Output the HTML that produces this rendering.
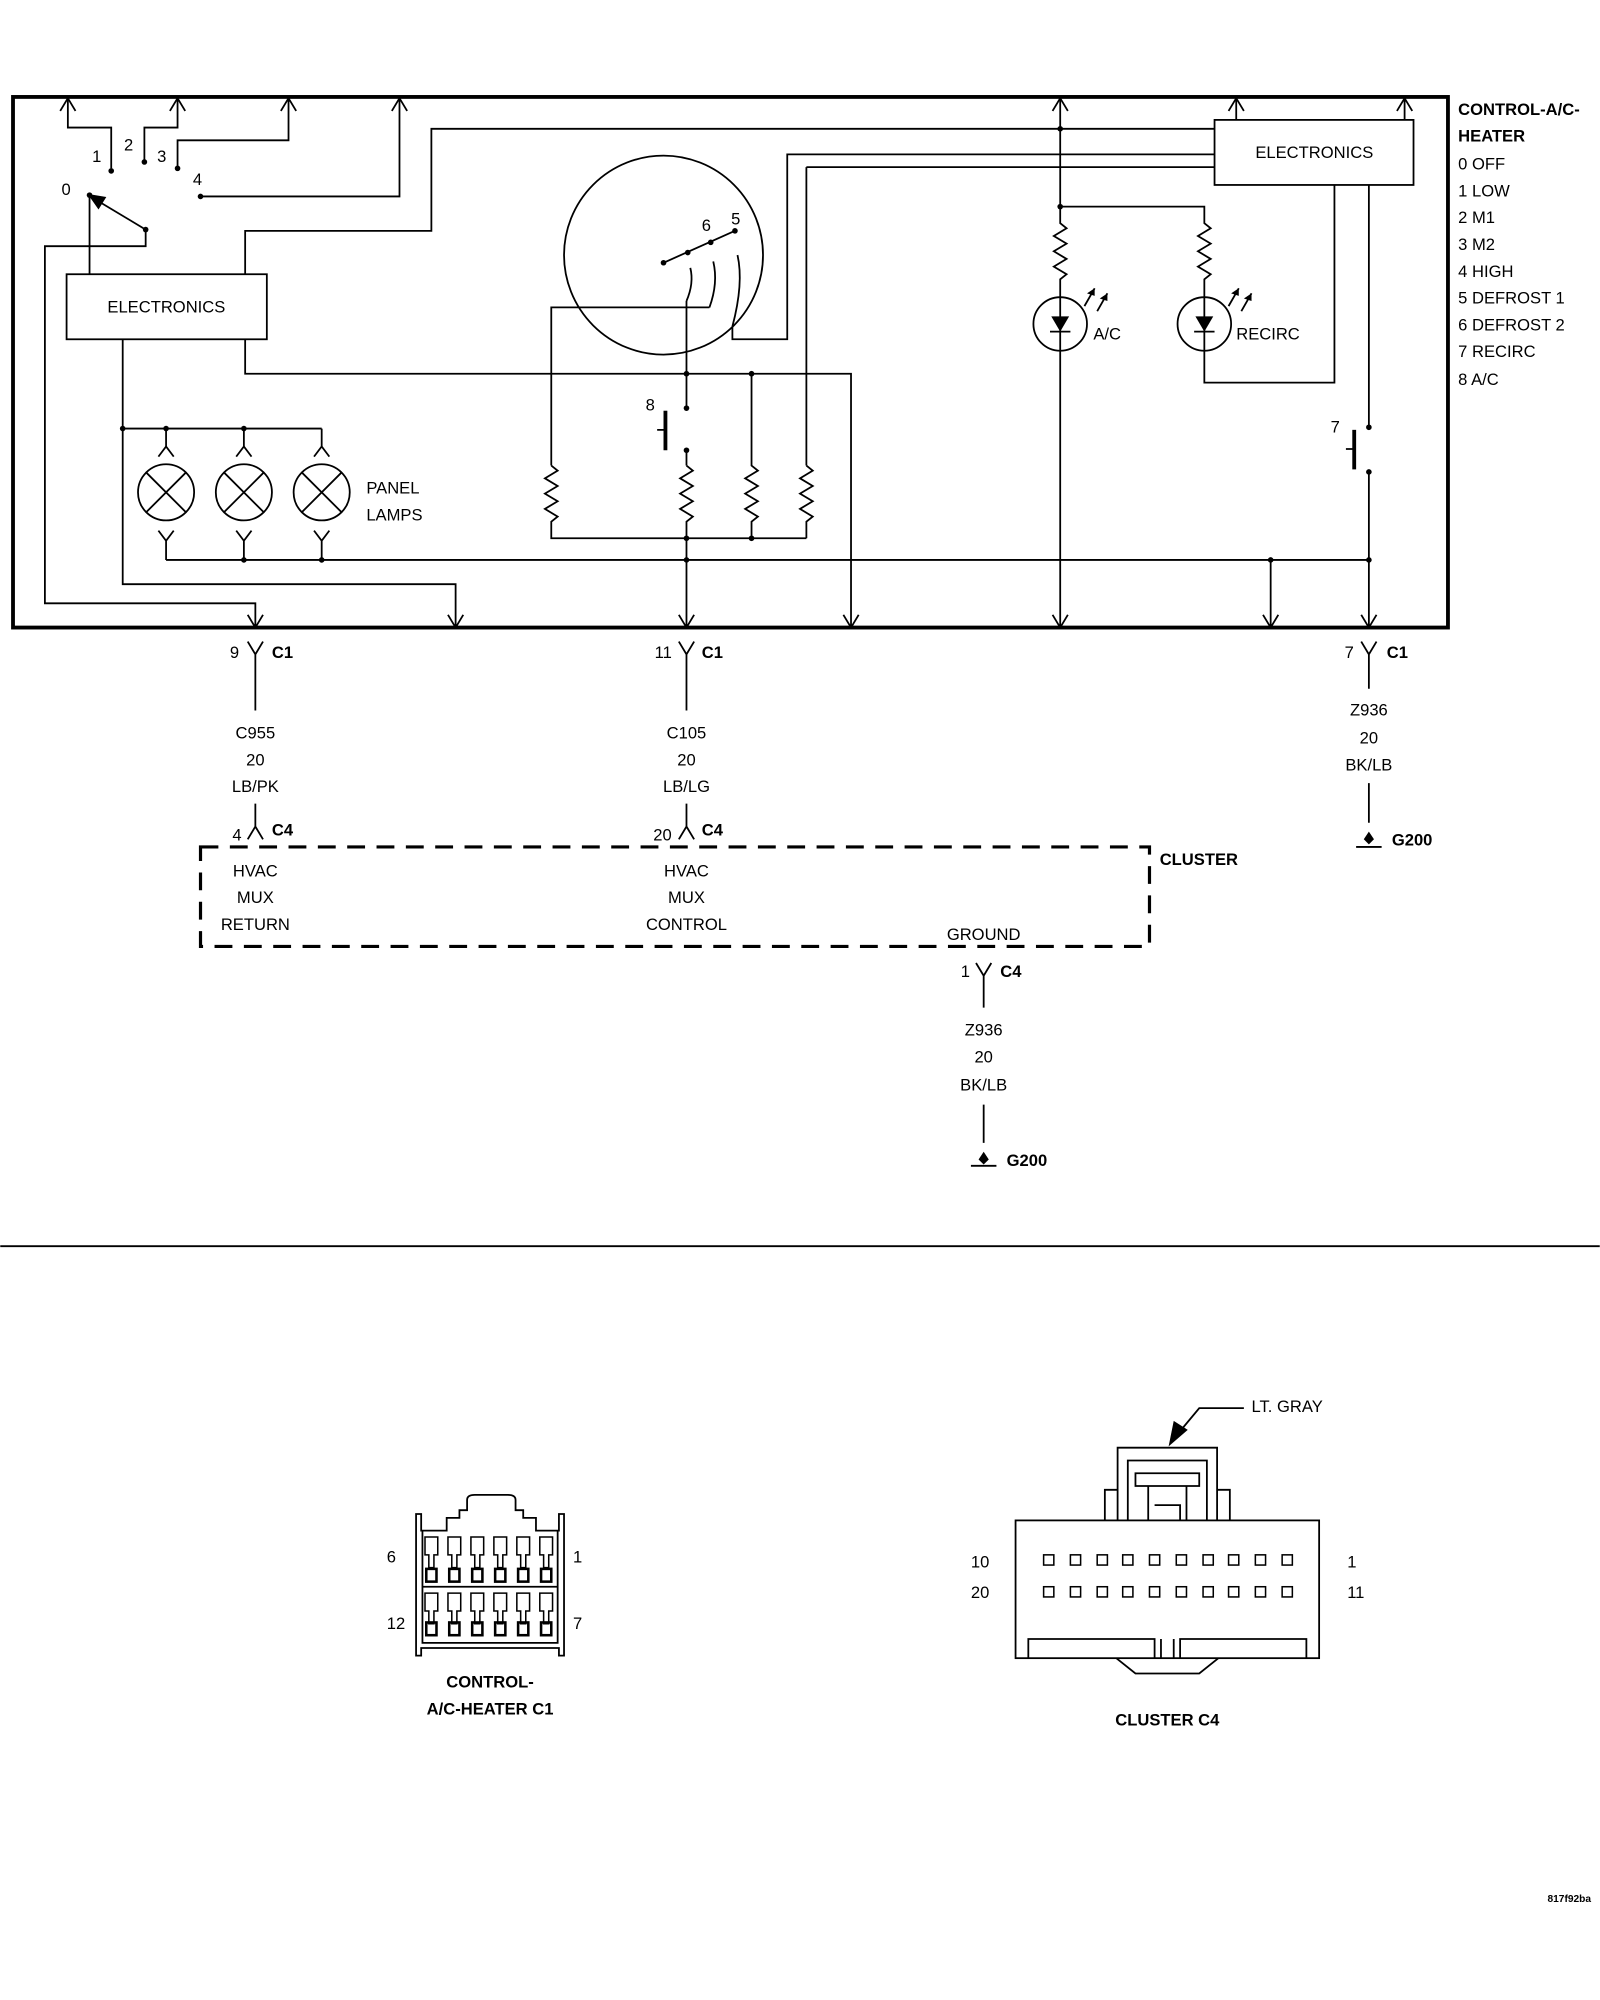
<!DOCTYPE html>
<html><head><meta charset="utf-8"><style>
html,body{margin:0;padding:0;background:#fff;}
svg{display:block;}
text{font-family:"Liberation Sans",Arial,sans-serif;font-size:13px;fill:#000;}
.b{font-weight:bold;}
.m{text-anchor:middle;}
</style></head><body>
<svg width="1600" height="2000" viewBox="0 0 1254 1568" xmlns="http://www.w3.org/2000/svg">
<defs>
<marker id="ad" markerWidth="1" markerHeight="1" overflow="visible"></marker>
</defs>
<g fill="none" stroke="#000" stroke-width="1.4">
<!-- outer box -->
<rect x="10" y="76" width="1125" height="416" stroke-width="3"/>
<!-- top up arrows -->
<path d="M47,87 L53,77 L59,87 M133,87 L139,77 L145,87 M220,87 L226,77 L232,87 M307,87 L313,77 L319,87 M825,87 L831,77 L837,87 M963,87 L969,77 L975,87 M1095,87 L1101,77 L1107,87"/>
<path d="M53,77 V100 H87 V132 M139,77 V100 H113 V127 M226,77 V110 H139 V132 M313,77 V154 H157"/>
<!-- switch -->
<path d="M114,180 L74,156"/>
<polygon points="70,153 82,155 77,163" fill="#000"/>
<path d="M70,153 V215 M114,180 V193 H35 V473 H200 V492 M194,482 L200,492 L206,482"/>
<!-- left electronics -->
<rect x="52" y="215" width="157" height="51"/>
<path d="M192,215 V181 H338 V101 H952 M192,266 V293 H667 V492 M661,482 L667,492 L673,482"/>
<path d="M96,266 V458 H357 V492 M351,482 L357,492 L363,482"/>
<!-- lamps -->
<path d="M96,336 H252 M130,336 V350 M191,336 V350 M252,336 V350"/>
<path d="M124,358 L130,350 L136,358 M185,358 L191,350 L197,358 M246,358 L252,350 L258,358"/>
<circle cx="130" cy="386" r="22"/><circle cx="191" cy="386" r="22"/><circle cx="252" cy="386" r="22"/>
<path d="M114,370 L146,402 M146,370 L114,402 M175,370 L207,402 M207,370 L175,402 M236,370 L268,402 M268,370 L236,402"/>
<path d="M124,416 L130,424 L136,416 M185,416 L191,424 L197,416 M246,416 L252,424 L258,416 M130,424 V439 M191,424 V439 M252,424 V439 M130,439 H1073"/>
<!-- circle switch -->
<circle cx="520" cy="200" r="78"/>
<path d="M520,206 L576,181"/>
<path d="M541,210 Q544,222 538,236 M559,205 Q563,222 556,241 M578,200 Q583,222 574,256"/>
<path d="M538,236 V320 M556,241 H432 V365 M574,256 V266 H617 V121 H952 M632,131 H952 M632,131 V365"/>
<path d="M522,323 V352 M515,337 H522"/>
<path d="M538,353 V365 M538,365 l5,4 l-10,6 l10,6 l-10,6 l10,6 l-10,6 l10,6 l-5,4 V492 M532,482 L538,492 L544,482"/>
<path d="M432,365 l5,4 l-10,6 l10,6 l-10,6 l10,6 l-10,6 l10,6 l-5,4 V422 H632"/>
<path d="M589,293 V365 l5,4 l-10,6 l10,6 l-10,6 l10,6 l-10,6 l10,6 l-5,4 V422"/>
<path d="M632,365 l5,4 l-10,6 l10,6 l-10,6 l10,6 l-10,6 l10,6 l-5,4 V422"/>
<!-- right electronics -->
<rect x="952" y="94" width="156" height="51"/>
<path d="M969,77 V94 M1101,77 V94"/>
<path d="M831,77 V175 l5,4 l-10,6 l10,6 l-10,6 l10,6 l-10,6 l10,6 l-5,4 V492 M825,482 L831,492 L837,482"/>
<path d="M831,162 H944 V175 l5,4 l-10,6 l10,6 l-10,6 l10,6 l-10,6 l10,6 l-5,4 V300 H1046 V145"/>
<circle cx="831" cy="254" r="21"/><circle cx="944" cy="254" r="21"/>
<path d="M823,260 H839 M936,260 H952"/>
<path d="M850,240 L858,226 M860,244 L868,230 M963,240 L971,226 M973,244 L981,230"/>
<path d="M1073,145 V335 M1062,338 V367 M1055,352 H1062 M1073,370 V492 M1067,482 L1073,492 L1079,482 M996,439 V492 M990,482 L996,492 L1002,482"/>
<!-- below -->
<path d="M194,503 L200,513 L206,503 M200,513 V557 M200,630 V648 M194,658 L200,648 L206,658"/>
<path d="M532,503 L538,513 L544,503 M538,513 V557 M538,630 V648 M532,658 L538,648 L544,658"/>
<path d="M1067,503 L1073,513 L1079,503 M1073,513 V540 M1073,614 V645 M1063,664 H1083"/>
<path d="M157,664 H901 V742 H157 Z" stroke-width="2.5" stroke-dasharray="14,9"/>
<path d="M765,755 L771,765 L777,755 M771,765 V790 M771,866 V896 M761,914 H781"/>
<path d="M0,977 H1254"/>
<!-- C1 connector -->
<path d="M326,1298 V1187 H330 V1200 H350 V1190 H360 V1184 H366 V1176 Q366,1172 372,1172 H398 Q404,1172 404,1176 V1184 H410 V1190 H420 V1200 H438 V1187 H442 V1298 H438 V1292 H330 V1298 Z"/>
<path d="M331,1200 V1288 H437 V1200 M331,1244 H437"/>
<g stroke-width="1.2">
<path d="M333,1205 h10 v14 h-3 v10 h-4 v-10 h-3 z M351,1205 h10 v14 h-3 v10 h-4 v-10 h-3 z M369,1205 h10 v14 h-3 v10 h-4 v-10 h-3 z M387,1205 h10 v14 h-3 v10 h-4 v-10 h-3 z M405,1205 h10 v14 h-3 v10 h-4 v-10 h-3 z M423,1205 h10 v14 h-3 v10 h-4 v-10 h-3 z"/>
<path d="M333,1249 h10 v14 h-3 v10 h-4 v-10 h-3 z M351,1249 h10 v14 h-3 v10 h-4 v-10 h-3 z M369,1249 h10 v14 h-3 v10 h-4 v-10 h-3 z M387,1249 h10 v14 h-3 v10 h-4 v-10 h-3 z M405,1249 h10 v14 h-3 v10 h-4 v-10 h-3 z M423,1249 h10 v14 h-3 v10 h-4 v-10 h-3 z"/>
</g>
<g stroke-width="2">
<rect x="334" y="1230" width="8" height="10"/><rect x="352" y="1230" width="8" height="10"/><rect x="370" y="1230" width="8" height="10"/><rect x="388" y="1230" width="8" height="10"/><rect x="406" y="1230" width="8" height="10"/><rect x="424" y="1230" width="8" height="10"/>
<rect x="334" y="1272" width="8" height="10"/><rect x="352" y="1272" width="8" height="10"/><rect x="370" y="1272" width="8" height="10"/><rect x="388" y="1272" width="8" height="10"/><rect x="406" y="1272" width="8" height="10"/><rect x="424" y="1272" width="8" height="10"/>
</g>
<!-- C4 connector -->
<rect x="796" y="1192" width="238" height="108"/>
<path d="M876,1192 V1135 H954 V1192 M884,1192 V1145 H946 V1192 M866,1192 V1168 H876 M954,1168 H964 V1192 M890,1155 H940 V1165 H890 Z M900,1165 V1192 M930,1165 V1192 M905,1180 H925 V1192"/>
<path d="M806,1300 V1285 H905 V1300 M925,1300 V1285 H1024 V1300 M910,1285 V1300 M920,1285 V1300 M875,1300 L890,1312 H940 L955,1300"/>
<g stroke-width="1.2">
<rect x="818" y="1219" width="8" height="8"/><rect x="839" y="1219" width="8" height="8"/><rect x="860" y="1219" width="8" height="8"/><rect x="880" y="1219" width="8" height="8"/><rect x="901" y="1219" width="8" height="8"/><rect x="922" y="1219" width="8" height="8"/><rect x="943" y="1219" width="8" height="8"/><rect x="963" y="1219" width="8" height="8"/><rect x="984" y="1219" width="8" height="8"/><rect x="1005" y="1219" width="8" height="8"/>
<rect x="818" y="1244" width="8" height="8"/><rect x="839" y="1244" width="8" height="8"/><rect x="860" y="1244" width="8" height="8"/><rect x="880" y="1244" width="8" height="8"/><rect x="901" y="1244" width="8" height="8"/><rect x="922" y="1244" width="8" height="8"/><rect x="943" y="1244" width="8" height="8"/><rect x="963" y="1244" width="8" height="8"/><rect x="984" y="1244" width="8" height="8"/><rect x="1005" y="1244" width="8" height="8"/>
</g>
<path d="M975,1104 H940 L925,1122"/>
</g>
<polygon points="916,1134 920,1114 931,1121" fill="#000"/>
<!-- dots -->
<g fill="#000">
<circle cx="87" cy="134" r="2.2"/><circle cx="113" cy="127" r="2.2"/><circle cx="139" cy="132" r="2.2"/><circle cx="157" cy="154" r="2.2"/><circle cx="70" cy="153" r="2.2"/><circle cx="114" cy="180" r="2.2"/>
<circle cx="96" cy="336" r="2.2"/><circle cx="130" cy="336" r="2.2"/><circle cx="191" cy="336" r="2.2"/>
<circle cx="191" cy="439" r="2.2"/><circle cx="252" cy="439" r="2.2"/>
<circle cx="520" cy="206" r="2.2"/><circle cx="539" cy="198" r="2.2"/><circle cx="557" cy="190" r="2.2"/><circle cx="576" cy="181" r="2.2"/>
<circle cx="538" cy="293" r="2.2"/><circle cx="589" cy="293" r="2.2"/><circle cx="538" cy="320" r="2.2"/><circle cx="538" cy="353" r="2.2"/>
<circle cx="538" cy="422" r="2.2"/><circle cx="589" cy="422" r="2.2"/><circle cx="538" cy="439" r="2.2"/>
<circle cx="831" cy="101" r="2.2"/><circle cx="831" cy="162" r="2.2"/>
<circle cx="1073" cy="335" r="2.2"/><circle cx="1073" cy="370" r="2.2"/><circle cx="996" cy="439" r="2.2"/><circle cx="1073" cy="439" r="2.2"/>
<polygon points="824,248 838,248 831,260"/><polygon points="937,248 951,248 944,260"/>
<polygon points="858,226 852,230 858,232"/><polygon points="868,230 862,234 868,236"/><polygon points="971,226 965,230 971,232"/><polygon points="981,230 975,234 981,236"/>
<polygon points="1073,652 1069,658 1073,662 1077,658"/><polygon points="771,903 767,909 771,913 775,909"/>
<rect x="520" y="322" width="3" height="31"/><rect x="1060" y="337" width="3" height="31"/>
</g>
<!-- text -->
<text x="84" y="245">ELECTRONICS</text>
<text x="984" y="124">ELECTRONICS</text>
<text x="48" y="153">0</text><text x="72" y="127">1</text><text x="97" y="118">2</text><text x="123" y="127">3</text><text x="151" y="145">4</text>
<text x="550" y="181">6</text><text x="573" y="176">5</text><text x="506" y="322">8</text><text x="1043" y="339">7</text>
<text x="857" y="266">A/C</text><text x="969" y="266">RECIRC</text>
<text x="287" y="387">PANEL</text><text x="287" y="408">LAMPS</text>
<text x="1143" y="90" class="b">CONTROL-A/C-</text><text x="1143" y="111" class="b">HEATER</text>
<text x="1143" y="133">0 OFF</text><text x="1143" y="154">1 LOW</text><text x="1143" y="175">2 M1</text><text x="1143" y="196">3 M2</text><text x="1143" y="217">4 HIGH</text><text x="1143" y="238">5 DEFROST 1</text><text x="1143" y="259">6 DEFROST 2</text><text x="1143" y="280">7 RECIRC</text><text x="1143" y="302">8 A/C</text>
<text x="180" y="516">9</text><text x="213" y="516" class="b">C1</text>
<text x="513" y="516">11</text><text x="550" y="516" class="b">C1</text>
<text x="1054" y="516">7</text><text x="1087" y="516" class="b">C1</text>
<text x="200" y="579" class="m">C955</text><text x="200" y="600" class="m">20</text><text x="200" y="621" class="m">LB/PK</text>
<text x="538" y="579" class="m">C105</text><text x="538" y="600" class="m">20</text><text x="538" y="621" class="m">LB/LG</text>
<text x="1073" y="561" class="m">Z936</text><text x="1073" y="583" class="m">20</text><text x="1073" y="604" class="m">BK/LB</text>
<text x="1091" y="663" class="b">G200</text>
<text x="182" y="659">4</text><text x="213" y="655" class="b">C4</text>
<text x="512" y="659">20</text><text x="550" y="655" class="b">C4</text>
<text x="909" y="678" class="b">CLUSTER</text>
<text x="200" y="687" class="m">HVAC</text><text x="200" y="708" class="m">MUX</text><text x="200" y="729" class="m">RETURN</text>
<text x="538" y="687" class="m">HVAC</text><text x="538" y="708" class="m">MUX</text><text x="538" y="729" class="m">CONTROL</text>
<text x="771" y="737" class="m">GROUND</text>
<text x="753" y="766">1</text><text x="784" y="766" class="b">C4</text>
<text x="771" y="812" class="m">Z936</text><text x="771" y="833" class="m">20</text><text x="771" y="855" class="m">BK/LB</text>
<text x="789" y="914" class="b">G200</text>
<text x="303" y="1225">6</text><text x="449" y="1225">1</text><text x="303" y="1277">12</text><text x="449" y="1277">7</text>
<text x="384" y="1323" class="b m">CONTROL-</text><text x="384" y="1344" class="b m">A/C-HEATER C1</text>
<text x="981" y="1107">LT. GRAY</text>
<text x="761" y="1229">10</text><text x="1056" y="1229">1</text><text x="761" y="1253">20</text><text x="1056" y="1253">11</text>
<text x="915" y="1353" class="b m">CLUSTER C4</text>
<text x="1213" y="1491" class="b" style="font-size:8px">817f92ba</text>
</svg>
</body></html>
